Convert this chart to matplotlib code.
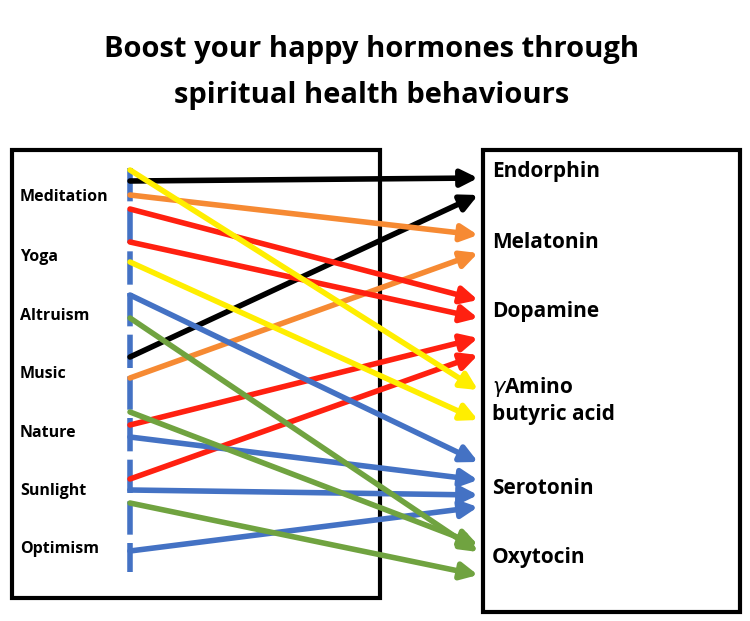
import matplotlib.pyplot as plt
from matplotlib.patches import Rectangle

behaviours = ['Meditation', 'Yoga', 'Altruism', 'Music', 'Nature', 'Sunlight', 'Optimism']
behaviour_y = [197, 257, 316, 374, 433, 491, 549]
hormones = ['Endorphin', 'Melatonin', 'Dopamine', '$\\gamma$Amino\nbutyric acid', 'Serotonin', 'Oxytocin']
hormone_y = [172, 242, 312, 400, 489, 558]

# links: (start y on the left bar, end y at arrow tip, colour)
link_start = [181, 357, 195, 378, 209, 242, 425, 479, 170, 262, 295, 437, 490, 551, 318, 412, 503]
link_end = [178, 195, 235, 253, 300, 318, 338, 355, 390, 420, 462, 480, 495, 507, 552, 545, 575]
link_color = ['black', 'black', '#f68a33', '#f68a33', '#ff2010', '#ff2010', '#ff2010', '#ff2010',
              '#ffee00', '#ffee00', '#4472c4', '#4472c4', '#4472c4', '#4472c4',
              '#70a340', '#70a340', '#70a340']

fig = plt.figure(figsize=(7.5, 6.21), dpi=100)
ax = fig.add_axes([0, 0, 1, 1])
ax.set_xlim(0, 750)
ax.set_ylim(621, 0)
ax.axis('off')

ax.text(372, 50, 'Boost your happy hormones through', ha='center', va='center',
        fontsize=21, fontweight='bold', family='Open Sans')
ax.text(372, 96, 'spiritual health behaviours', ha='center', va='center',
        fontsize=21, fontweight='bold', family='Open Sans')

ax.add_patch(Rectangle((12, 150), 368, 448, fill=False, lw=3, ec='black'))
ax.add_patch(Rectangle((483, 150), 257, 462, fill=False, lw=3, ec='black'))

ax.plot([130, 130], [168, 572], color='#4472c4', lw=4, ls=(0, (6, 1.5)))

for name, y in zip(behaviours, behaviour_y):
    ax.text(20, y, name, ha='left', va='center', fontsize=11.5, fontweight='bold', family='Open Sans')
for name, y in zip(hormones, hormone_y):
    ax.text(492, y, name, ha='left', va='center', fontsize=15, fontweight='bold',
            family='Open Sans', linespacing=1.3)

for y0, y1, c in zip(link_start, link_end, link_color):
    ax.annotate('', xy=(478, y1), xytext=(130, y0),
                arrowprops=dict(arrowstyle='-|>,head_length=1.0,head_width=0.5', color=c, lw=4,
                                shrinkA=0, shrinkB=0))

fig.savefig('out.png', dpi=100)
